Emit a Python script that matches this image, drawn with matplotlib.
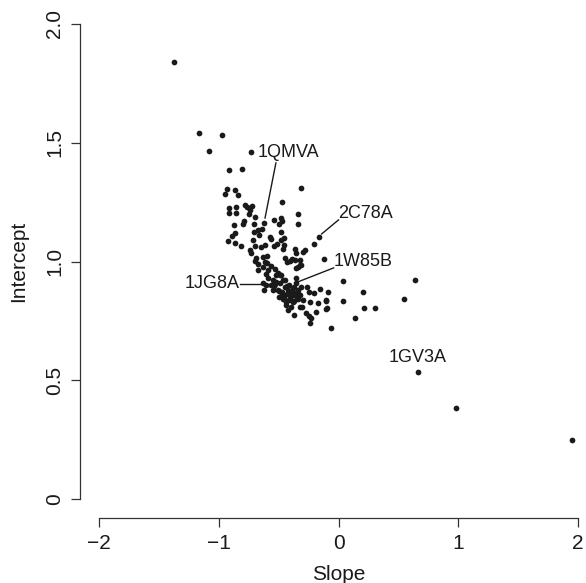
import matplotlib
matplotlib.use("Agg")
import matplotlib.pyplot as plt

plt.rcParams["font.family"] = ["Liberation Sans", "DejaVu Sans"]

# slope / intercept pairs
slope = [
    -1.378, -1.162, -0.971, -1.079, -0.730, -0.913, -0.805, -0.315, -0.929, -0.863, -0.946, -0.838,
    -0.473, -0.913, -0.855, -0.780, -0.763, -0.722, -0.739, -0.913, -0.855, -0.747, -0.340, -0.481,
    -0.473, -0.539, -0.788, -0.797, -0.697, -0.622, -0.340, -0.871, -0.705, -0.672, -0.639,
    -0.481, -0.863, -0.888, -0.573, -0.564, -0.166, -0.207, -0.481, -0.456, -0.921, -0.863, -0.813,
    -0.714, -0.697, -0.647, -0.614, -0.539, -0.515, -0.465, -0.365, -0.357, -0.282, -0.299, -0.739,
    -0.730, -0.689, -0.631, -0.598, -0.664, -0.705,
    -0.614, -0.448, -0.432, -0.390, -0.365, -0.324, -0.124, -0.672, -0.631, -0.598, -0.564, -0.315,
    -0.340, -0.697, -0.672, -0.606, -0.589, -0.531, -0.523,
    -0.589, -0.548, -0.523, -0.564, -0.531, -0.622, -0.548, -0.506, -0.481, -0.465, -0.490, -0.357,
    -0.357, -0.606, -0.448, -0.415, -0.382, -0.340, -0.315, -0.473, -0.432, -0.398, -0.365, -0.324,
    -0.456, -0.415, -0.373, -0.340, -0.440, -0.398, -0.307, -0.266, -0.249, -0.207, -0.158, -0.091,
    0.041, 0.207, 0.041, -0.108, -0.100, -0.174, -0.191, 0.216, 0.307, -0.382, -0.274, -0.249,
    -0.232, -0.373, 0.141, -0.241, -0.066, -0.423, 0.639, 0.548, 0.664, 0.979, 1.950,
    -0.631, -0.539, -0.498, -0.465, -0.440, -0.498, -0.456,
    -0.506, -0.473, -0.423, -0.390, -0.357, -0.465, -0.407, -0.498, -0.340, -0.373, -0.432,
    -0.299, -0.241, -0.108, -0.108, -0.324, -0.407, -0.324, -0.357, -0.490, -0.448,
]
intercept = [
    1.840, 1.541, 1.533, 1.465, 1.461, 1.385, 1.389, 1.309, 1.305, 1.301, 1.284, 1.280,
    1.251, 1.225, 1.229, 1.238, 1.229, 1.234, 1.217, 1.204, 1.204, 1.200, 1.200, 1.183,
    1.171, 1.175, 1.171, 1.158, 1.187, 1.162, 1.158, 1.154, 1.158, 1.133, 1.137,
    1.124, 1.120, 1.107, 1.103, 1.095, 1.103, 1.074, 1.091, 1.069, 1.086, 1.078, 1.065,
    1.091, 1.065, 1.061, 1.069, 1.065, 1.074, 1.053, 1.053, 1.036, 1.048, 1.040, 1.048,
    1.036, 1.015, 1.019, 1.023, 1.112, 1.124,
    0.998, 1.015, 0.998, 1.011, 1.006, 1.006, 1.011, 0.989, 0.977, 0.994, 0.981, 0.985,
    0.977, 1.002, 0.964, 0.947, 0.964, 0.968, 0.943,
    0.931, 0.922, 0.914, 0.901, 0.905, 0.880, 0.880, 0.952, 0.943, 0.922, 0.909, 0.931,
    0.909, 0.901, 0.893, 0.901, 0.888, 0.880, 0.893, 0.872, 0.863, 0.855, 0.867, 0.859,
    0.846, 0.838, 0.834, 0.842, 0.817, 0.808, 0.808, 0.893, 0.872, 0.867, 0.884, 0.872,
    0.918, 0.872, 0.834, 0.834, 0.804, 0.825, 0.787, 0.804, 0.804, 0.830, 0.783, 0.771,
    0.762, 0.775, 0.762, 0.741, 0.720, 0.796, 0.922, 0.842, 0.535, 0.383, 0.248,
    0.909, 0.897, 0.876, 0.855, 0.830, 1.158, 1.099,
    0.880, 0.863, 0.880, 0.872, 0.855, 0.842, 0.846, 0.851, 0.867, 0.893, 0.897,
    0.838, 0.829, 0.838, 0.800, 0.808, 1.002, 0.985, 0.973, 0.943, 0.922,
]

# labelled structures: text position, alignment and leader line
labels = ["1QMVA", "2C78A", "1W85B", "1JG8A", "1GV3A"]
label_xy = [(-0.672, 1.461), (0.0, 1.204), (-0.041, 0.998), (-0.830, 0.909), (0.664, 0.594)]
label_ha = ["left", "left", "left", "right", "center"]
leader_from = [(-0.523, 1.415), (0.0, 1.175), (-0.041, 0.973), (-0.822, 0.905), None]
leader_to = [(-0.614, 1.183), (-0.141, 1.116), (-0.340, 0.914), (-0.631, 0.905), None]

ink = "#1a1a1a"

fig = plt.figure(figsize=(5.86, 5.83), dpi=100)
# R-style plot region: 4% padding around xlim=(-2,2), ylim=(0,2)
ax = fig.add_axes([80 / 586, 65 / 583, 517 / 586, 513 / 583])
ax.set_xlim(-2.16, 2.16)
ax.set_ylim(-0.08, 2.08)

ax.scatter(slope, intercept, s=17, color=ink, linewidths=0, zorder=3)

for name, (tx, ty), ha, p0, p1 in zip(labels, label_xy, label_ha, leader_from, leader_to):
    ax.text(tx, ty, name, ha=ha, va="center", fontsize=13, color=ink)
    if p0 is not None:
        ax.plot([p0[0], p1[0]], [p0[1], p1[1]], color=ink, lw=1.0)

for side in ["top", "right"]:
    ax.spines[side].set_visible(False)
ax.spines["left"].set_bounds(0, 2)
ax.spines["bottom"].set_bounds(-2, 2)
for side in ["left", "bottom"]:
    ax.spines[side].set_color("#333333")
    ax.spines[side].set_linewidth(0.9)

ax.set_xticks([-2, -1, 0, 1, 2])
ax.set_xticklabels(["\u22122", "\u22121", "0", "1", "2"])
ax.set_yticks([0, 0.5, 1.0, 1.5, 2.0])
ax.set_yticklabels(["0", "0.5", "1.0", "1.5", "2.0"], rotation=90, va="center")
ax.tick_params(length=6.5, width=0.9, color="#333333", labelsize=15, labelcolor=ink, pad=5)

ax.set_xlabel("Slope", fontsize=15, color=ink, labelpad=9)
ax.set_ylabel("Intercept", fontsize=15, color=ink, labelpad=12)

fig.savefig("out.png", dpi=100)
